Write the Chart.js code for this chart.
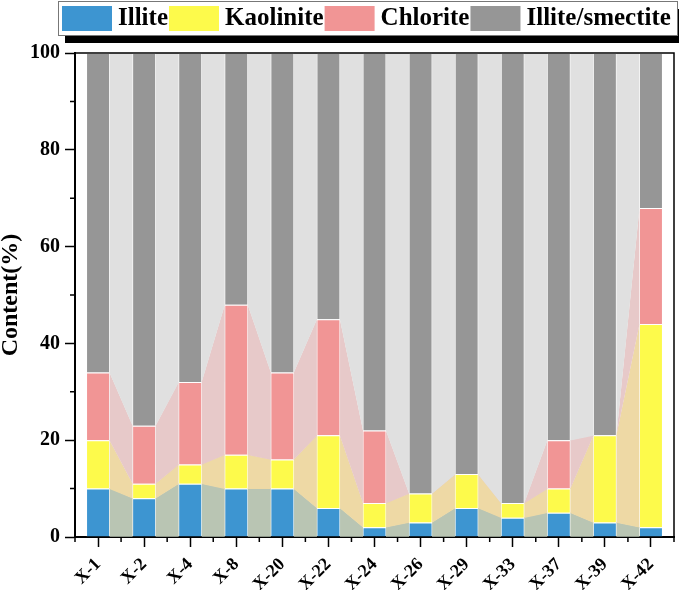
<!DOCTYPE html>
<html>
<head>
<meta charset="utf-8">
<script src="https://cdn.jsdelivr.net/npm/chart.js@4/dist/chart.umd.min.js"></script>
<style>
  html, body { margin: 0; padding: 0; background: #fff; }
  #wrap { width: 679px; height: 590px; }
</style>
</head>
<body>
<div id="wrap"><canvas id="chart" width="679" height="590"></canvas></div>
<script>
const samples = ["X-1", "X-2", "X-4", "X-8", "X-20", "X-22", "X-24", "X-26", "X-29", "X-33", "X-37", "X-39", "X-42"];
const illite = [10, 8, 11, 10, 10, 6, 2, 3, 6, 4, 5, 3, 2];
const kaolinite = [10, 3, 4, 7, 6, 15, 5, 6, 7, 3, 5, 18, 42];
const chlorite = [14, 12, 17, 31, 18, 24, 15, 0, 0, 0, 10, 0, 24];
const illiteSmectite = [66, 77, 68, 52, 66, 55, 78, 91, 87, 93, 80, 79, 32];
const yTicks = [0, 20, 40, 60, 80, 100];

const serif = "'Liberation Serif', 'Times New Roman', serif";
const barColors = ["#3d95d1", "#fdfa4b", "#f19595", "#969696"];
const bandColors = ["#b9c5b3", "#eed9a5", "#e7c9c9", "#e0e0e0"];

// connecting bands between neighbouring bars
const bandPlugin = {
    id: "bands",
    beforeDatasetsDraw(chart) {
        const ctx = chart.ctx;
        ctx.save();
        chart.data.datasets.forEach((ds, k) => {
            const meta = chart.getDatasetMeta(k);
            ctx.fillStyle = bandColors[k];
            for (let i = 0; i < meta.data.length - 1; i++) {
                const a = meta.data[i].getProps(["x", "y", "base", "width"], true);
                const b = meta.data[i + 1].getProps(["x", "y", "base", "width"], true);
                const x1 = a.x + a.width / 2 - 0.5;
                const x2 = b.x - b.width / 2 + 0.5;
                ctx.beginPath();
                ctx.moveTo(x1, a.y - 0.3);
                ctx.lineTo(x2, b.y - 0.3);
                ctx.lineTo(x2, b.base + 0.3);
                ctx.lineTo(x1, a.base + 0.3);
                ctx.closePath();
                ctx.fill();
            }
        });
        ctx.restore();
    }
};

// frame, minor ticks and legend
const decorPlugin = {
    id: "decor",
    afterDraw(chart) {
        const ctx = chart.ctx;
        const area = chart.chartArea;
        const xs = chart.scales.x;
        const ys = chart.scales.y;
        ctx.save();
        ctx.strokeStyle = "#000";
        ctx.lineWidth = 1.5;
        ctx.beginPath();
        ctx.moveTo(area.left, area.top);
        ctx.lineTo(area.right, area.top);
        ctx.lineTo(area.right, area.bottom);
        ctx.stroke();

        // minor ticks
        ctx.beginPath();
        for (let v = 10; v < 100; v += 20) {
            const y = ys.getPixelForValue(v);
            ctx.moveTo(area.left - 5, y);
            ctx.lineTo(area.left, y);
        }
        for (let i = 0; i <= samples.length; i++) {
            const x = xs.getPixelForValue(i - 0.5);
            ctx.moveTo(x, area.bottom);
            ctx.lineTo(x, area.bottom + 5);
        }
        ctx.stroke();

        // legend box with shadow
        const bx = 58, by = 1, bw = 619, bh = 34;
        ctx.fillStyle = "#000";
        ctx.fillRect(bx + 7, by + 8, bw, bh);
        ctx.fillStyle = "#fff";
        ctx.fillRect(bx, by, bw, bh);
        ctx.strokeStyle = "#777";
        ctx.lineWidth = 1;
        ctx.strokeRect(bx + 0.5, by + 0.5, bw, bh);

        ctx.font = "bold 25px " + serif;
        ctx.textBaseline = "middle";
        ctx.textAlign = "left";
        let x = 62;
        chart.data.datasets.forEach((ds, k) => {
            ctx.fillStyle = barColors[k];
            ctx.fillRect(x, 6, 50, 25);
            ctx.fillStyle = "#000";
            ctx.fillText(ds.label, x + 56, 19);
            x += 56 + ctx.measureText(ds.label).width + 1;
        });
        ctx.restore();
    }
};

const ctx = document.getElementById("chart").getContext("2d");
new Chart(ctx, {
    type: "bar",
    data: {
        labels: samples,
        datasets: [
            { label: "Illite", data: illite, backgroundColor: barColors[0], borderColor: "rgba(255,255,255,0.25)", borderWidth: 1 },
            { label: "Kaolinite", data: kaolinite, backgroundColor: barColors[1], borderColor: "rgba(255,255,255,0.25)", borderWidth: 1 },
            { label: "Chlorite", data: chlorite, backgroundColor: barColors[2], borderColor: "rgba(255,255,255,0.25)", borderWidth: 1 },
            { label: "Illite/smectite", data: illiteSmectite, backgroundColor: barColors[3], borderColor: "rgba(255,255,255,0.25)", borderWidth: 1 }
        ]
    },
    options: {
        responsive: false,
        animation: false,
        barPercentage: 0.52,
        categoryPercentage: 1,
        layout: { padding: { top: 53, right: 5, left: 0, bottom: 0 } },
        plugins: {
            legend: { display: false },
            tooltip: { enabled: false }
        },
        scales: {
            x: {
                stacked: true,
                offset: true,
                afterFit: s => { s.height = 53; },
                grid: {
                    offset: false,
                    drawOnChartArea: false,
                    tickLength: 10,
                    tickColor: "#000",
                    tickWidth: 1.5
                },
                border: { color: "#000", width: 2 },
                ticks: {
                    minRotation: 45,
                    maxRotation: 45,
                    padding: 7,
                    color: "#000",
                    font: { family: serif, weight: "bold", size: 18 }
                }
            },
            y: {
                stacked: true,
                min: 0,
                max: 100,
                afterFit: s => { s.width = 75; },
                afterBuildTicks: s => { s.ticks = yTicks.map(v => ({ value: v })); },
                grid: {
                    drawOnChartArea: false,
                    tickLength: 10,
                    tickColor: "#000",
                    tickWidth: 1.5
                },
                border: { color: "#000", width: 2 },
                ticks: {
                    padding: 5,
                    color: "#000",
                    font: { family: serif, weight: "bold", size: 20 }
                },
                title: {
                    display: true,
                    text: "Content(%)",
                    color: "#000",
                    padding: 0,
                    font: { family: serif, weight: "bold", size: 24, lineHeight: 0.9 }
                }
            }
        }
    },
    plugins: [bandPlugin, decorPlugin]
});
</script>
</body>
</html>
